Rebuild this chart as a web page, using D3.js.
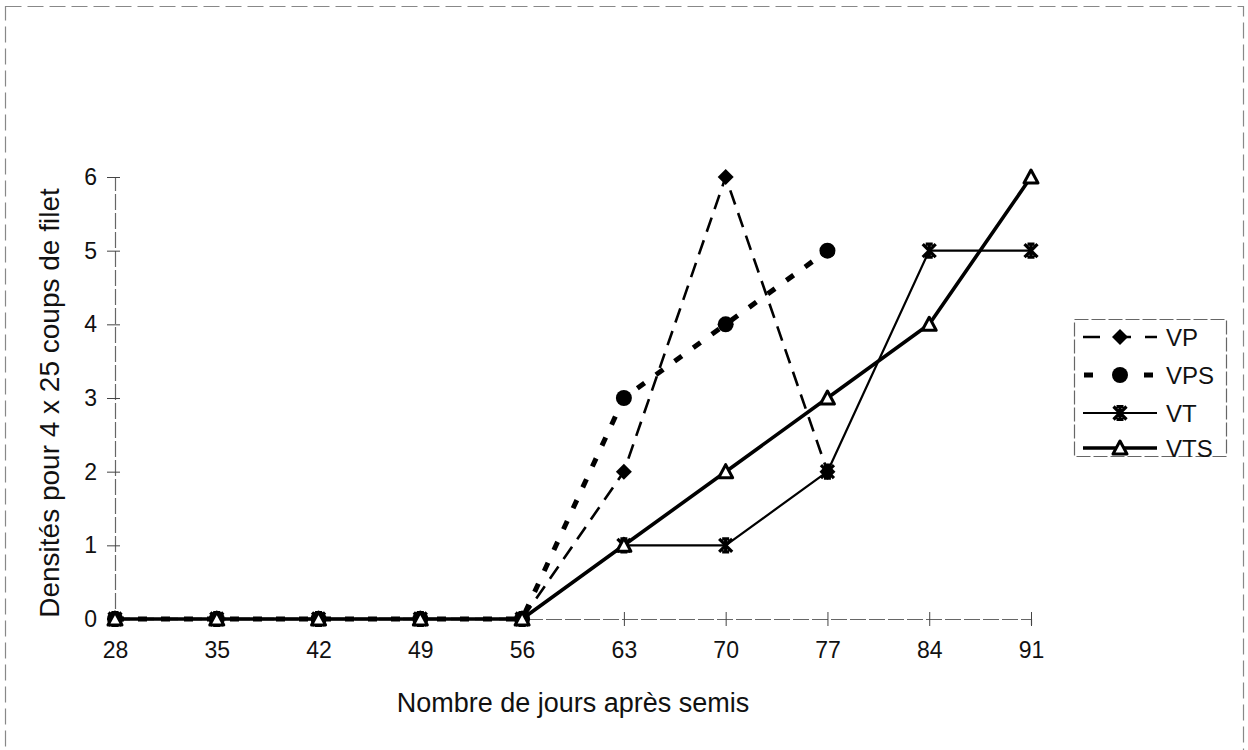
<!DOCTYPE html>
<html>
<head>
<meta charset="utf-8">
<script src="https://cdn.jsdelivr.net/npm/d3@7"></script>
<style>
  html, body { margin: 0; padding: 0; background: #fff; }
  svg { display: block; font-family: "Liberation Sans", Arial, sans-serif; }
</style>
</head>
<body>
<svg id="chart" width="1248" height="750"></svg>
<script>
// Days after sowing (x categories)
const days = [28, 35, 42, 49, 56, 63, 70, 77, 84, 91];
// Densities per 4 x 25 net sweeps, one array per treatment (null = not sampled)
const vp  = [0, 0, 0, 0, 0, 2, 6, 2, null, null];
const vps = [0, 0, 0, 0, 0, 3, 4, 5, null, null];
const vt  = [0, 0, 0, 0, 0, 1, 1, 2, 5, 5];
const vts = [0, 0, 0, 0, 0, 1, 2, 3, 4, 6];
const yTicks = [0, 1, 2, 3, 4, 5, 6];
const seriesNames = ["VP", "VPS", "VT", "VTS"];

const svg = d3.select("#chart");

// Outer dashed frame
svg.append("rect")
  .attr("x", 5.5).attr("y", 6.5).attr("width", 1238).attr("height", 760)
  .attr("fill", "none").attr("stroke", "#888").attr("stroke-width", 1.2)
  .attr("stroke-dasharray", "16 6");

const x = d3.scalePoint().domain(days).range([115, 1031]);
const y = d3.scaleLinear().domain([0, 6]).range([619, 177]);

// Y axis
const yAxis = svg.append("g").attr("transform", "translate(115,0)")
  .call(d3.axisLeft(y).tickValues(yTicks).tickFormat(d3.format("d")).tickSize(8).tickPadding(10));
yAxis.select(".domain").attr("stroke", "#666").attr("stroke-width", 1.2)
  .attr("stroke-dasharray", "16 3");
yAxis.selectAll(".tick line").attr("x1", 5).attr("stroke", "#444");
yAxis.selectAll(".tick text").attr("font-size", 23).attr("fill", "#111")
  .attr("font-family", "Liberation Sans, Arial, sans-serif");

// X axis
const xAxis = svg.append("g").attr("transform", "translate(0,619)")
  .call(d3.axisBottom(x).tickSize(7).tickPadding(16));
xAxis.select(".domain").attr("stroke", "#666").attr("stroke-width", 1.2)
  .attr("stroke-dasharray", "16 3");
xAxis.selectAll(".tick line").attr("y1", -7).attr("stroke", "#444");
xAxis.selectAll(".tick text").attr("font-size", 23).attr("fill", "#111")
  .attr("font-family", "Liberation Sans, Arial, sans-serif");

// Axis titles
svg.append("text")
  .attr("x", 573).attr("y", 712)
  .attr("text-anchor", "middle").attr("font-size", 27).attr("fill", "#111")
  .text("Nombre de jours après semis");
svg.append("text")
  .attr("transform", "translate(59,403) rotate(-90)")
  .attr("text-anchor", "middle").attr("font-size", 28).attr("fill", "#111")
  .text("Densités pour 4 x 25 coups de filet");

// Series styles
const styles = {
  VP:  { values: vp,  width: 2.6, dash: "15 9",  marker: "diamond" },
  VPS: { values: vps, width: 5,   dash: "9 14",  marker: "circle" },
  VT:  { values: vt,  width: 2.2, dash: null,    marker: "star" },
  VTS: { values: vts, width: 3.6, dash: null,    marker: "triangle" }
};

function drawMarker(g, type, cx, cy) {
  if (type === "diamond") {
    g.append("path")
      .attr("d", `M${cx},${cy - 8}L${cx + 8},${cy}L${cx},${cy + 8}L${cx - 8},${cy}Z`)
      .attr("fill", "#000");
  } else if (type === "circle") {
    g.append("circle").attr("cx", cx).attr("cy", cy).attr("r", 8).attr("fill", "#000");
  } else if (type === "star") {
    const s = 6.5, h = 3.5;
    g.append("path")
      .attr("d", `M${cx - s},${cy - s}L${cx + s},${cy + s}M${cx + s},${cy - s}L${cx - s},${cy + s}` +
                 `M${cx},${cy - s}L${cx},${cy + s}M${cx - h},${cy - s}L${cx + h},${cy - s}` +
                 `M${cx - h},${cy + s}L${cx + h},${cy + s}`)
      .attr("stroke", "#000").attr("stroke-width", 3.2).attr("fill", "none");
  } else if (type === "triangle") {
    g.append("path")
      .attr("d", `M${cx},${cy - 7}L${cx + 7},${cy + 6}L${cx - 7},${cy + 6}Z`)
      .attr("fill", "#fff").attr("stroke", "#000").attr("stroke-width", 3)
      .attr("stroke-linejoin", "round");
  }
}

const line = d3.line()
  .defined(d => d.v !== null)
  .x(d => x(d.day))
  .y(d => y(d.v));

const plot = svg.append("g");
seriesNames.forEach(name => {
  const st = styles[name];
  const pts = days.map((day, i) => ({ day, v: st.values[i] }));
  plot.append("path")
    .datum(pts)
    .attr("d", line)
    .attr("fill", "none")
    .attr("stroke", "#000")
    .attr("stroke-width", st.width)
    .attr("stroke-dasharray", st.dash)
    .attr("stroke-linejoin", "round");
});
seriesNames.forEach(name => {
  const st = styles[name];
  const g = plot.append("g");
  days.forEach((day, i) => {
    if (st.values[i] !== null) drawMarker(g, st.marker, x(day), y(st.values[i]));
  });
});

// Legend
const legend = svg.append("g");
legend.append("rect")
  .attr("x", 1074.5).attr("y", 319.5).attr("width", 152).attr("height", 137)
  .attr("fill", "#fff").attr("stroke", "#666").attr("stroke-width", 1.2)
  .attr("stroke-dasharray", "14 3");
const legendY = [337, 375, 413, 448];
seriesNames.forEach((name, i) => {
  const st = styles[name];
  const ly = legendY[i];
  const g = legend.append("g");
  g.append("line")
    .attr("x1", 1083).attr("x2", 1157).attr("y1", ly).attr("y2", ly)
    .attr("stroke", "#000").attr("stroke-width", st.width)
    .attr("stroke-dasharray", name === "VP" ? "17 14" : name === "VPS" ? "9 21" : null)
    .attr("stroke-dashoffset", name === "VPS" ? -1 : 0);
  drawMarker(g, st.marker, 1120, ly);
  g.append("text")
    .attr("x", 1166).attr("y", ly).attr("dy", "0.36em")
    .attr("font-size", 24).attr("fill", "#111")
    .text(name);
});
</script>
</body>
</html>
